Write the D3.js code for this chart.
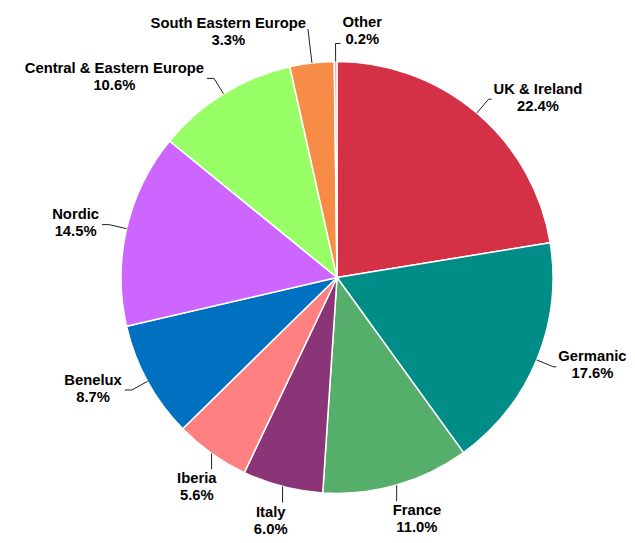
<!DOCTYPE html>
<html>
<head>
<meta charset="utf-8">
<script src="https://cdn.jsdelivr.net/npm/d3@7"></script>
<style>
  html, body { margin: 0; padding: 0; background: #fff; }
  svg { display: block; }
  .lbl { font-family: "Liberation Sans", Arial, sans-serif; font-weight: bold; font-size: 14.8px; fill: #000; }
</style>
</head>
<body>
<svg id="chart" width="635" height="543"></svg>
<script>
// Regional share of the total, clockwise from 12 o'clock
const regions = ["UK & Ireland", "Germanic", "France", "Italy", "Iberia", "Benelux",
                 "Nordic", "Central & Eastern Europe", "South Eastern Europe", "Other"];
const shares  = [22.4, 17.6, 11.0, 6.0, 5.6, 8.7, 14.5, 10.6, 3.3, 0.2];
const palette = ["#d43146", "#008d88", "#56ae6b", "#8b3478", "#ff8080", "#0070c0",
                 "#cc66ff", "#99ff66", "#f68c45", "#ff99cc"];

const width = 635, height = 543;
const cx = 337, cy = 277.5, radius = 216;
const lineH = 17;

const svg = d3.select("#chart");
const g = svg.append("g").attr("transform", `translate(${cx},${cy})`);

const data = regions.map((name, i) => ({ name, value: shares[i] }));

const color = d3.scaleOrdinal().domain(regions).range(palette);

const pie = d3.pie().value(d => d.value).sort(null);
const arc = d3.arc().innerRadius(0).outerRadius(radius);
const arcs = pie(data);

g.selectAll("path.slice")
  .data(arcs)
  .join("path")
  .attr("class", "slice")
  .attr("d", arc)
  .attr("fill", d => color(d.data.name))
  .attr("stroke", "#fff")
  .attr("stroke-width", 1.5)
  .attr("stroke-linejoin", "round");

// point on a circle of radius rr at angle a (clockwise from top)
const polar = (rr, a) => [rr * Math.sin(a), -rr * Math.cos(a)];

const labelLayer = g.append("g");
let prevTop = null;   // box of the last label placed near 12 o'clock

arcs.forEach(d => {
  const a = (d.startAngle + d.endAngle) / 2;
  const deg = a * 180 / Math.PI;
  const edge = polar(radius, a);
  const end = polar(radius + 18, a);
  const lines = [d.data.name, d3.format(".1f")(d.data.value) + "%"];

  const t = labelLayer.append("text").attr("class", "lbl");
  const spans = lines.map(s => t.append("tspan").text(s));
  const widths = spans.map(s => s.node().getComputedTextLength());
  const w = d3.max(widths);

  let left, base1, path;
  const right = deg < 180;
  if (deg > 20 && deg < 150) {
    // right side, short horizontal tail
    const tail = end[0] + 3;
    path = [edge, end, [tail, end[1]]];
    left = tail + 2;
    base1 = end[1] - lineH / 2 + 3;
  } else if (deg >= 150 && deg <= 225) {
    // underneath: vertical drop, block hangs below
    const drop = [edge[0], edge[1] + 16];
    path = [edge, drop];
    left = right ? drop[0] - 4 : drop[0] + 5 - w;
    base1 = drop[1] + 14;
  } else if (deg > 225 && deg < 340) {
    // left side, horizontal tail
    const tail = end[0] - 7;
    path = [edge, end, [tail, end[1]]];
    left = tail - 3 - w;
    base1 = end[1] - lineH / 2 + 3;
  } else {
    // near 12 o'clock: block sits above the connector end
    base1 = end[1] - lineH;
    const k = (edge[1] - (base1 + 1)) / Math.cos(a);
    const top = polar(radius + k, a);
    let box = [top[0] - 2 - w, top[0] - 2];
    const clash = prevTop && box[0] < prevTop[1] + 4 && box[1] > prevTop[0] - 4;
    if (right || clash) {
      // flip to the right of the connector
      const tail = end[0] + 5;
      path = [edge, end, [tail, end[1]]];
      left = tail + 2;
    } else {
      path = [edge, top];
      left = box[0];
    }
    prevTop = [left, left + w];
  }

  spans.forEach((s, i) => {
    s.attr("x", left + (w - widths[i]) / 2).attr("y", base1 + i * lineH);
  });

  labelLayer.insert("path", "text")
    .attr("d", d3.line()(path))
    .attr("fill", "none")
    .attr("stroke", "#222")
    .attr("stroke-width", 1);
});
</script>
</body>
</html>
